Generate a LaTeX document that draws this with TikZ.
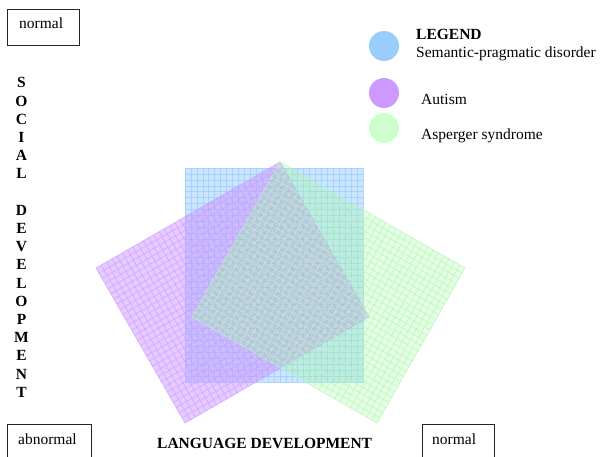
\documentclass[tikz,border=0pt]{standalone}
\usepackage{fontspec}
\setmainfont{Liberation Serif}
\usetikzlibrary{calc}
\definecolor{sblue}{HTML}{99CCFF}
\definecolor{spurple}{HTML}{CC99FF}
\definecolor{sgreen}{HTML}{CCFFCC}
\definecolor{sgreenfill}{HTML}{99FF99}
\definecolor{sgreenline}{HTML}{B8F5B8}
\newcommand\hatchquad[7]{%
  \foreach \i in {1,...,#5}{%
    \pgfmathsetmacro\tq{\i/(#5+1)}%
    \draw[#7] ($(#1)!\tq!(#2)$) -- ($(#4)!\tq!(#3)$);}%
  \foreach \i in {1,...,#6}{%
    \pgfmathsetmacro\tq{\i/(#6+1)}%
    \draw[#7] ($(#1)!\tq!(#4)$) -- ($(#2)!\tq!(#3)$);}%
}
\begin{document}
\begin{tikzpicture}[x=1pt,y=-1pt,
  every node/.style={inner sep=0pt, font=\fontsize{15.5}{17.5}\selectfont},
  txt/.style={anchor=base west},
  boldtxt/.style={anchor=base west, font=\fontsize{15.5}{17.5}\selectfont\bfseries},
  vlet/.style={anchor=base, font=\fontsize{15.5}{17.5}\selectfont\bfseries},
  corner/.style={draw=black!85, line width=1.1pt, anchor=north west, minimum height=36pt},
  gridb/.style={sblue, line width=0.6pt, opacity=0.75},
  gridp/.style={spurple, line width=0.6pt, opacity=0.75},
  gridg/.style={sgreenline, line width=0.6pt, opacity=0.9},
  dot/.style={circle, minimum size=30pt}]
\clip (0,0) rectangle (600,456);
\fill[white] (0,0) rectangle (600,456);

% Blue rectangle
\coordinate (B1) at (185,168);
\coordinate (B2) at (185,382);
\coordinate (B3) at (363,382);
\coordinate (B4) at (363,168);
\fill[sblue, fill opacity=0.5] (B1)--(B2)--(B3)--(B4)--cycle;
\hatchquad{B1}{B2}{B3}{B4}{35}{29}{gridb}
\draw[gridb] (B1)--(B2)--(B3)--(B4)--cycle;

% Purple rectangle
\coordinate (P1) at (280,162);
\coordinate (P2) at (96,268);
\coordinate (P3) at (185,423);
\coordinate (P4) at (369,317);
\fill[spurple, fill opacity=0.5] (P1)--(P2)--(P3)--(P4)--cycle;
\hatchquad{P1}{P2}{P3}{P4}{34}{29}{gridp}
\draw[gridp] (P1)--(P2)--(P3)--(P4)--cycle;

% Green rectangle
\coordinate (G1) at (280,162);
\coordinate (G2) at (465,268);
\coordinate (G3) at (377,423);
\coordinate (G4) at (192,317);
\fill[sgreenfill, fill opacity=0.25] (G1)--(G2)--(G3)--(G4)--cycle;
\hatchquad{G1}{G2}{G3}{G4}{34}{29}{gridg}
\draw[gridg] (G1)--(G2)--(G3)--(G4)--cycle;

% Corner boxes
\node[corner, minimum width=72pt] (tlbox) at (7,9) {};
\node[txt] (tltext) at (19,28) {normal};
\node[corner, minimum width=84pt] (blbox) at (7,424) {};
\node[txt] (bltext) at (18,444) {abnormal};
\node[corner, minimum width=72pt] (brbox) at (422,424) {};
\node[txt] (brtext) at (432,444) {normal};

% Axis titles
\node[boldtxt] (xaxis) at (157,448) {LANGUAGE DEVELOPMENT};
\foreach \l/\y [count=\k] in {S/82.6,O/100.8,C/119,I/137.2,A/155.4,L/173.6,D/210,E/228.2,V/246.4,E/264.6,L/282.8,O/301,P/319.2,M/337.4,E/355.6,N/373.8,T/392}
  \node[vlet] (v\k) at (21.5,\y+5.3) {\l};

% Legend
\node[dot, fill=sblue] (lb) at (384,46) {};
\node[dot, fill=spurple] (lp) at (384,93) {};
\node[dot, fill=sgreen] (lg) at (384,128) {};
\node[boldtxt] (legt) at (416,39) {LEGEND};
\node[txt] (legb) at (416,57) {Semantic-pragmatic disorder};
\node[txt] (legp) at (421,104) {Autism};
\node[txt] (legg) at (421,139) {Asperger syndrome};
\end{tikzpicture}
\end{document}
